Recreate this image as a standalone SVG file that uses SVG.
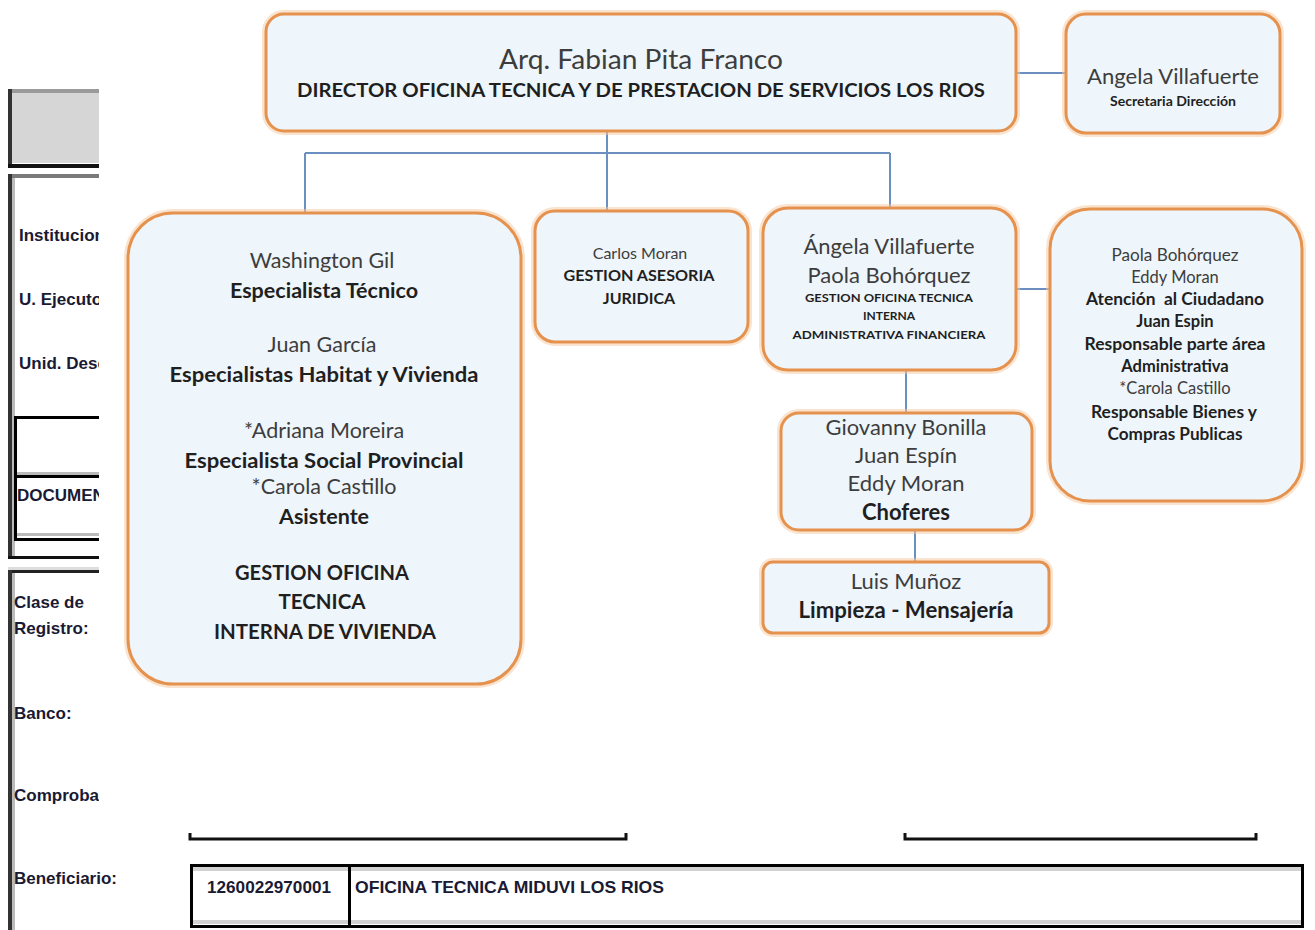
<svg xmlns="http://www.w3.org/2000/svg" width="1315" height="930" viewBox="0 0 1315 930">
<style>
.form{font-family:"Liberation Sans",Arial,sans-serif;font-weight:bold;font-size:17px;fill:#1a1a33}
.box{fill:#eef5fb;stroke:#e5924f;stroke-width:3}
.glow{fill:none;stroke:#f6c9a0;stroke-width:8;opacity:0.5}
.conn{fill:none;stroke:#6b8fc1;stroke-width:2}
.n{font-family:Lato,"Open Sans",sans-serif;fill:#3d3d3d;text-anchor:middle}
.b{font-family:Lato,"Open Sans",sans-serif;font-weight:bold;fill:#1f1f1f;text-anchor:middle}
</style>
<rect x="0" y="0" width="1315" height="930" fill="#ffffff"/>
<g id="form">
<rect x="8" y="89" width="100" height="4" fill="#9a9a9a"/>
<rect x="8" y="89" width="4" height="79" fill="#333"/>
<rect x="12" y="93" width="96" height="70" fill="#d6d6d6"/>
<rect x="8" y="164" width="100" height="4" fill="#111"/>
<rect x="8" y="174" width="100" height="4" fill="#7a7a7a"/>
<rect x="8" y="174" width="4" height="384" fill="#333"/>
<rect x="12" y="178" width="3" height="380" fill="#bbb"/>
<rect x="14" y="416" width="94" height="3" fill="#000"/>
<rect x="14" y="416" width="3" height="125" fill="#000"/>
<rect x="17" y="472" width="91" height="3" fill="#bbb"/>
<rect x="14" y="475" width="94" height="3" fill="#000"/>
<rect x="17" y="533" width="91" height="3" fill="#bbb"/>
<rect x="14" y="538" width="94" height="3" fill="#000"/>
<rect x="8" y="556" width="100" height="3" fill="#111"/>
<rect x="8" y="567" width="100" height="3" fill="#ddd"/>
<rect x="8" y="570" width="100" height="3" fill="#222"/>
<rect x="8" y="570" width="4" height="360" fill="#333"/>
<rect x="12" y="573" width="3" height="357" fill="#bbb"/>
<text class="form" x="19" y="241">Institucion</text>
<text class="form" x="19" y="305">U. Ejecutora</text>
<text class="form" x="19" y="369">Unid. Desc</text>
<text class="form" x="17" y="501">DOCUMENTO</text>
<text class="form" x="14" y="608">Clase de</text>
<text class="form" x="14" y="634">Registro:</text>
<text class="form" x="14" y="719">Banco:</text>
<text class="form" x="14" y="801">Comprobante</text>
<text class="form" x="14" y="884">Beneficiario:</text>
<rect x="99" y="0" width="1216" height="822" fill="#ffffff"/>
<path d="M190 833 V839 H626 V833" fill="none" stroke="#111" stroke-width="3"/>
<path d="M905 833 V839 H1256 V833" fill="none" stroke="#111" stroke-width="3"/>
<rect x="191.5" y="865.5" width="1111" height="61" fill="#fff" stroke="#000" stroke-width="3"/>
<rect x="193" y="867" width="1108" height="4" fill="#d2d2d2"/>
<rect x="193" y="920" width="1108" height="4" fill="#d2d2d2"/>
<rect x="348" y="865" width="3" height="62" fill="#000"/>
<text class="form" x="207" y="893" font-size="16" textLength="124" lengthAdjust="spacingAndGlyphs">1260022970001</text>
<text class="form" x="355" y="893" font-size="16" textLength="309" lengthAdjust="spacingAndGlyphs">OFICINA TECNICA MIDUVI LOS RIOS</text>
</g>
<g id="connectors">
<path class="conn" d="M607 132 V153 M305 153 H890 M305 153 V214 M607 153 V211 M890 153 V208"/>
<path class="conn" d="M1017 73 H1066"/>
<path class="conn" d="M1017 289 H1050"/>
<path class="conn" d="M906 371 V413"/>
<path class="conn" d="M915 530 V562"/>
</g>
<g id="director">
<rect class="glow" x="266" y="14" width="750" height="117" rx="18"/>
<rect class="box" x="266" y="14" width="750" height="117" rx="18"/>
<text class="n" x="641" y="69" font-size="27" textLength="284" lengthAdjust="spacingAndGlyphs">Arq. Fabian Pita Franco</text>
<text class="b" x="641" y="97" font-size="19" textLength="688" lengthAdjust="spacingAndGlyphs">DIRECTOR OFICINA TECNICA Y DE PRESTACION DE SERVICIOS LOS RIOS</text>
</g>
<g id="secretaria">
<rect class="glow" x="1066" y="14" width="214" height="119" rx="20"/>
<rect class="box" x="1066" y="14" width="214" height="119" rx="20"/>
<text class="n" x="1173" y="84" font-size="22" textLength="172" lengthAdjust="spacingAndGlyphs">Angela Villafuerte</text>
<text class="b" x="1173" y="106" font-size="13" textLength="126" lengthAdjust="spacingAndGlyphs">Secretaria Dirección</text>
</g>
<g id="gestion-vivienda">
<rect class="glow" x="128" y="213" width="393" height="471" rx="45"/>
<rect class="box" x="128" y="213" width="393" height="471" rx="45"/>
<text class="n" x="322" y="268" font-size="21.5">Washington Gil</text>
<text class="b" x="324" y="298" font-size="21.5">Especialista Técnico</text>
<text class="n" x="322" y="352" font-size="21.5">Juan García</text>
<text class="b" x="324" y="382" font-size="21.5" textLength="309" lengthAdjust="spacingAndGlyphs">Especialistas Habitat y Vivienda</text>
<text class="n" x="324" y="438" font-size="21.5">*Adriana Moreira</text>
<text class="b" x="324" y="468" font-size="21.5" textLength="279" lengthAdjust="spacingAndGlyphs">Especialista Social Provincial</text>
<text class="n" x="324" y="494" font-size="21.5">*Carola Castillo</text>
<text class="b" x="324" y="524" font-size="21.5">Asistente</text>
<text class="b" x="322" y="580" font-size="20.5" textLength="174" lengthAdjust="spacingAndGlyphs">GESTION OFICINA</text>
<text class="b" x="322" y="609" font-size="20.5">TECNICA</text>
<text class="b" x="325" y="639" font-size="20.5" textLength="222" lengthAdjust="spacingAndGlyphs">INTERNA DE VIVIENDA</text>
</g>
<g id="juridica">
<rect class="glow" x="535" y="211" width="213" height="131" rx="20"/>
<rect class="box" x="535" y="211" width="213" height="131" rx="20"/>
<text class="n" x="640" y="259" font-size="16">Carlos Moran</text>
<text class="b" x="639" y="281" font-size="16" textLength="151" lengthAdjust="spacingAndGlyphs">GESTION ASESORIA</text>
<text class="b" x="639" y="304" font-size="16">JURIDICA</text>
</g>
<g id="administrativa">
<rect class="glow" x="763" y="208" width="253" height="162" rx="25"/>
<rect class="box" x="763" y="208" width="253" height="162" rx="25"/>
<text class="n" x="889" y="254" font-size="22" textLength="171" lengthAdjust="spacingAndGlyphs">Ángela Villafuerte</text>
<text class="n" x="889" y="283" font-size="22">Paola Bohórquez</text>
<text class="b" x="889" y="302" font-size="12" textLength="168" lengthAdjust="spacingAndGlyphs">GESTION OFICINA TECNICA</text>
<text class="b" x="889" y="320" font-size="12">INTERNA</text>
<text class="b" x="889" y="339" font-size="12" textLength="193" lengthAdjust="spacingAndGlyphs">ADMINISTRATIVA FINANCIERA</text>
</g>
<g id="atencion">
<rect class="glow" x="1050" y="209" width="252" height="292" rx="40"/>
<rect class="box" x="1050" y="209" width="252" height="292" rx="40"/>
<text class="n" x="1175" y="261" font-size="16.5" textLength="127" lengthAdjust="spacingAndGlyphs">Paola Bohórquez</text>
<text class="n" x="1175" y="283" font-size="16.5">Eddy Moran</text>
<text class="b" x="1175" y="305" font-size="16.5" xml:space="preserve" textLength="178" lengthAdjust="spacingAndGlyphs">Atención  al Ciudadano</text>
<text class="b" x="1175" y="327" font-size="16.5">Juan Espin</text>
<text class="b" x="1175" y="350" font-size="16.5" textLength="181" lengthAdjust="spacingAndGlyphs">Responsable parte área</text>
<text class="b" x="1175" y="372" font-size="16.5">Administrativa</text>
<text class="n" x="1175" y="394" font-size="16.5">*Carola Castillo</text>
<text class="b" x="1174" y="418" font-size="16.5" textLength="166" lengthAdjust="spacingAndGlyphs">Responsable Bienes y</text>
<text class="b" x="1175" y="440" font-size="16.5" textLength="135" lengthAdjust="spacingAndGlyphs">Compras Publicas</text>
</g>
<g id="choferes">
<rect class="glow" x="781" y="413" width="251" height="117" rx="18"/>
<rect class="box" x="781" y="413" width="251" height="117" rx="18"/>
<text class="n" x="906" y="435" font-size="22" textLength="161" lengthAdjust="spacingAndGlyphs">Giovanny Bonilla</text>
<text class="n" x="906" y="463" font-size="22">Juan Espín</text>
<text class="n" x="906" y="491" font-size="22">Eddy Moran</text>
<text class="b" x="906" y="520" font-size="22">Choferes</text>
</g>
<g id="limpieza">
<rect class="glow" x="763" y="562" width="286" height="71" rx="10"/>
<rect class="box" x="763" y="562" width="286" height="71" rx="10"/>
<text class="n" x="906" y="589" font-size="22">Luis Muñoz</text>
<text class="b" x="906" y="618" font-size="22" textLength="215" lengthAdjust="spacingAndGlyphs">Limpieza - Mensajería</text>
</g>
</svg>
